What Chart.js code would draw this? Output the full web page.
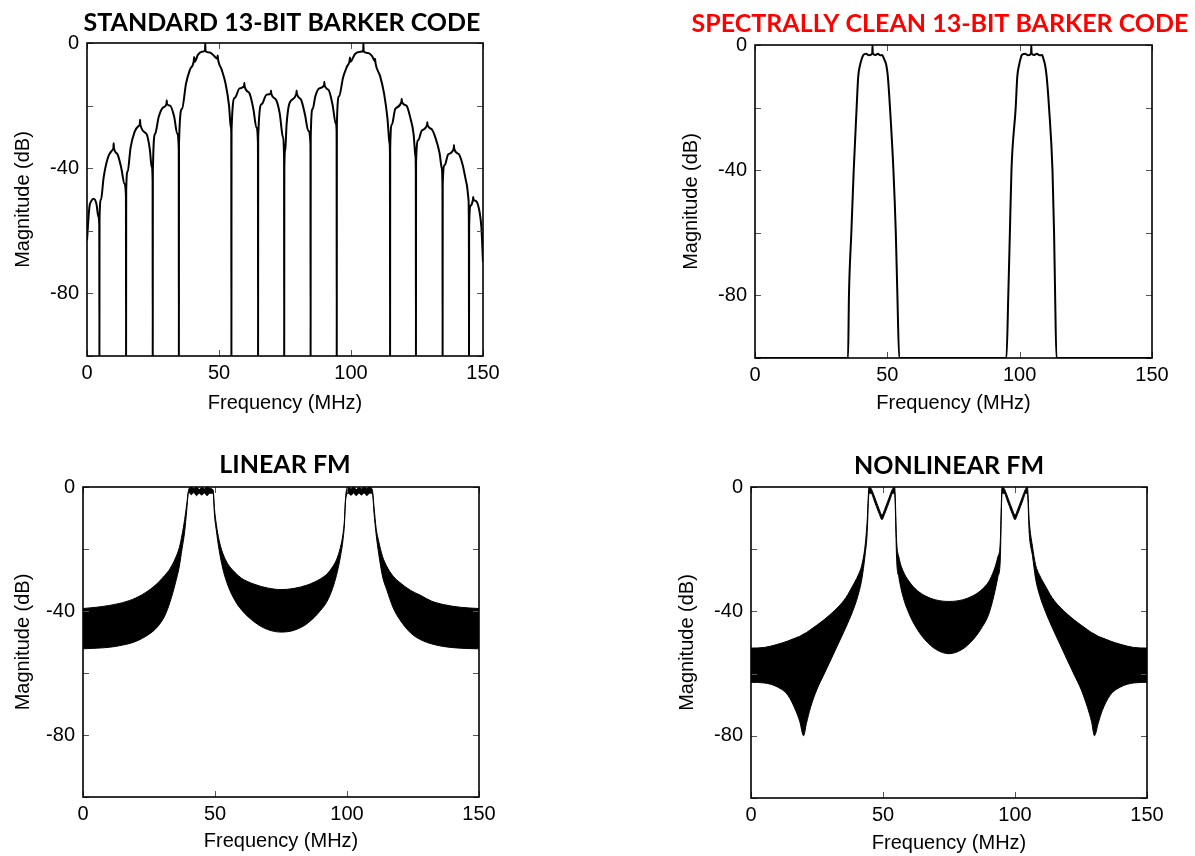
<!DOCTYPE html>
<html>
<head>
<meta charset="utf-8">
<script src="https://cdn.jsdelivr.net/npm/chart.js@4.4.1/dist/chart.umd.min.js"></script>
<style>
  html, body { margin: 0; padding: 0; background: #fff; width: 1195px; height: 856px; overflow: hidden; }
  canvas { position: absolute; }
</style>
</head>
<body>
<canvas id="barker" width="563" height="420" style="left:0px;top:0px"></canvas>
<canvas id="clean" width="544" height="420" style="left:668px;top:0px"></canvas>
<canvas id="lfm" width="571" height="414" style="left:0px;top:444px"></canvas>
<canvas id="nlfm" width="570" height="416" style="left:664px;top:444px"></canvas>
<script>
// axis ticks
const freqTicks = [0, 50, 100, 150];
const magTicks = [0, -20, -40, -60, -80, -100];
const magLabels = [0, -40, -80];

// standard 13-bit Barker code spectrum (MHz, dB)
const barkerFreq = [
  0, 0.9, 1.6, 2.5, 3.6, 4.3, 4.65, 4.7,
  4.75, 5.3, 6.3, 7.8, 9.3, 10.0, 10.1, 10.2, 11.5, 13, 14.2, 14.75, 14.8,
  14.85, 15.4, 16.5, 18, 19.6, 20.0, 20.1, 20.2, 22.5, 23.8, 24.5, 24.85, 24.9,
  24.95, 25.8, 27.2, 29, 30.1, 30.2, 30.3, 31.5, 33, 34.2, 34.75, 34.8,
  34.85, 36, 37.5, 39, 40.4, 40.6, 40.8, 42, 43.5, 44.7, 44.8, 44.9, 46.5, 48, 49.3, 49.5, 49.7, 51, 52.5, 53.8, 54.5, 54.65, 54.7,
  54.75, 56, 57.8, 59.5, 59.6, 59.7, 61.5, 63, 64.2, 64.75, 64.8,
  64.85, 66.2, 68, 69.6, 69.7, 69.8, 71.5, 73, 74.2, 74.65, 74.7,
  74.75, 75.1, 75.6, 76.8, 79.3, 79.4, 79.5, 81, 82.6, 83.8, 84.65, 84.7,
  84.75, 85.5, 86.5, 88, 89.8, 89.9, 90.0, 91.5, 93, 94.3, 94.55, 94.6,
  94.65, 95.5, 97, 98.5, 99.5, 99.6, 99.8, 101.5, 103.5, 104.6, 104.7, 104.8, 106.5, 108, 109.0, 109.1, 109.3, 111, 112.5, 113.8, 114.6, 114.75, 114.8,
  114.85, 115.5, 116.8, 119.1, 119.2, 119.3, 121, 122.5, 123.7, 124.4, 124.55, 124.6,
  124.65, 125.5, 126.8, 128.8, 128.9, 129.0, 130.5, 132, 133.5, 134.4, 134.65, 134.7,
  134.75, 135.5, 136.8, 138.9, 139.0, 139.1, 140.8, 142.3, 143.8, 144.5, 144.65, 144.7,
  144.75, 145.3, 146.2, 146.3, 146.4, 147.4, 148.7, 149.4, 150
];
const barkerMag = [
  -63, -52.5, -50.5, -49.8, -51.5, -55.5, -58, -100,
  -56, -50, -43, -37, -34.5, -33.5, -32, -33.5, -35.5, -40, -45, -49, -100,
  -47, -41, -33.5, -28.5, -26.5, -26, -24.5, -26, -29, -34, -39.5, -44, -100,
  -41, -29, -23.5, -20.5, -19.5, -18.3, -19.5, -20, -23.5, -29, -34, -100,
  -32, -21, -13, -8.5, -6, -4.5, -6, -3.8, -2.8, -2.5, 0, -2.6, -3, -4, -5, -4, -5.5, -8.5, -13, -20, -27, -29, -100,
  -28, -17.5, -14.5, -13.8, -12.7, -13.8, -16, -21, -27, -32, -100,
  -30, -19.5, -16.5, -16.2, -15.2, -16.2, -18, -22.5, -30, -37, -100,
  -40, -34, -26, -19, -16.2, -15.2, -16.2, -18, -23, -28, -32.4, -100,
  -30, -21, -17, -14.5, -13.5, -12.4, -13.5, -15, -19.7, -26, -28.2, -100,
  -26, -17, -11, -7.5, -5.5, -4.6, -6, -3.5, -2.8, -2.6, 0, -2.7, -3.2, -4.2, -5.8, -5, -6.5, -10.5, -16, -24, -32, -35.6, -100,
  -33.5, -26, -21, -18.8, -17.8, -18.8, -20, -24, -29, -36, -41, -100,
  -38, -31, -28, -26.2, -25.3, -26.2, -27.5, -30.3, -35, -40, -47, -100,
  -45, -39, -35.6, -33.8, -32.6, -33.8, -35.5, -39, -45, -50, -59, -100,
  -59, -52, -50, -49.2, -50, -50.5, -54, -59, -70
];

// spectrally clean 13-bit Barker code
const cleanFreq = [
  0, 35.15, 35.5, 36.4, 37.3, 38.4, 39.0, 39.7, 40.3, 40.9,
  42, 43, 44.3, 44.4, 44.5, 45.5, 46.5, 47.3, 48.0, 48.8,
  49.6, 50.2, 51.0, 52.3, 53.2, 53.8, 54.5,
  95.0, 95.7, 96.3, 96.9, 98.5, 99.1, 99.8, 100.3, 100.8,
  102, 103.2, 104.3, 104.4, 104.5, 105.5, 106.5, 107.5, 108.5,
  109.0, 109.6, 110.2, 111.1, 112.4, 113.0, 113.4, 113.9, 150
];
const cleanMag = [
  -100, -100, -80, -60, -40, -20, -10.1, -6.4, -4.5, -3.2,
  -2.8, -3.3, -2.7, 0, -2.7, -3.2, -2.8, -3.3, -3.2, -4.5,
  -6.4, -10.1, -20, -40, -60, -80, -100,
  -100, -80, -60, -40, -20, -10.1, -6.4, -4.5, -3.2,
  -2.8, -3.3, -2.7, 0, -2.7, -3.2, -2.8, -3.3, -3.2,
  -4.5, -6.4, -10.1, -20, -40, -60, -80, -100, -100
];

// linear FM: upper and lower edge of the oscillating band
const lfmFreq = [
  0, 5, 10, 15, 20, 25, 28, 31, 33, 35,
  36.5, 37.5, 38.5, 39.3, 40, 41, 42, 43, 44, 45,
  46, 47, 48, 49.3, 49.8, 50.5, 51.5, 53, 55, 57.5,
  60, 65, 70, 75, 80, 85, 90, 92.5, 94.5, 96,
  97.5, 98.5, 99, 99.5, 100.5, 101.5, 102.5, 103.5, 104.5, 105.5,
  106.5, 107.5, 108.5, 109.6, 110.3, 111, 112, 113.5, 115, 117.5,
  120, 124, 128, 132, 137, 143, 150
];
const lfmUpper = [
  -39.2, -38.8, -38.2, -37.3, -35.8, -33.3, -31.2, -28.5, -26.3, -23,
  -19.5, -15.5, -10.5, -5.5, -1, 0, -0.5, 0, -0.8, -0.2,
  -0.6, 0, -0.4, -1, -7, -12, -17, -21.5, -25, -27.5,
  -29.4, -31.4, -32.6, -33.1, -32.7, -31.6, -29.6, -28, -25.8, -23.5,
  -19.5, -15, -11, -3, 0, -0.6, 0, -0.8, -0.2, -0.6,
  0, -0.5, 0, -1, -7, -13, -17.5, -22.5, -25.5, -28.8,
  -30.8, -33.3, -35, -36.8, -38, -38.8, -39.2
];
const lfmLower = [
  -52.2, -52, -51.7, -51, -49.8, -47.5, -45.3, -41.5, -37, -31,
  -25.5, -20, -14.5, -7.5, -1.5, -2.5, -1.8, -2.8, -2, -2.6,
  -1.9, -2.8, -2, -2, -9, -14, -20, -26.5, -32, -36.5,
  -39.6, -43.6, -46, -46.8, -46.2, -44, -39.8, -36.8, -32.8, -28.5,
  -22.5, -17, -12.5, -4, -2, -2.7, -1.9, -2.8, -2, -2.6,
  -1.9, -2.8, -2, -2, -9, -15, -21.5, -29, -33, -39,
  -42.8, -47, -49.3, -50.6, -51.5, -52, -52.2
];

// nonlinear FM
const nlfmFreq = [
  0, 5, 10, 14, 17, 18.5, 19.9, 21, 22.5, 25,
  27.5, 30, 33, 36, 38.5, 40.5, 42, 43.2, 44, 44.7,
  45.5, 46.5, 47.5, 48.5, 49.6, 50.7, 51.7, 52.7, 53.7, 54.4,
  55.2, 56, 57.5, 60, 63, 66, 70, 75, 80, 84,
  87, 90, 92, 93.5, 94.4, 95.1, 95.9, 96.9, 97.9, 98.9,
  100, 101.1, 102.1, 103.1, 104.1, 104.7, 105.4, 106.6, 107.8, 109.4,
  111.5, 114, 117, 120, 122.5, 125, 127.5, 129, 130.1, 131.5,
  133, 136, 140, 145, 150
];
const nlfmUpper = [
  -51.8, -51.6, -50.6, -49.5, -48.5, -48, -47.3, -46.8, -45.9, -44.4,
  -42.8, -41, -38.6, -35.5, -31.8, -28.5, -25, -19, -11, 0,
  -0.5, -2.5, -4.8, -7, -9, -7, -4.8, -2.5, -0.5, 0,
  -18, -22.5, -26.8, -30.5, -33.3, -35, -36.3, -36.8, -36.3, -35,
  -33.3, -30.5, -26.8, -22.5, -18, 0, -0.5, -2.5, -4.8, -7,
  -9, -7, -4.8, -2.5, -0.5, 0, -11, -19, -25, -28.5,
  -31.8, -35.5, -38.6, -41, -42.8, -44.4, -45.9, -46.8, -47.3, -48,
  -48.5, -49.5, -50.6, -51.6, -51.8
];
const nlfmLower = [
  -62.8, -63, -64.3, -67, -72, -75.5, -80, -76, -71, -65,
  -60.5, -56, -50.5, -45, -40, -35, -29.5, -22, -15, -2,
  -2, -4, -6.3, -8.5, -10.5, -8.5, -6.3, -4, -2, -2,
  -24, -29, -35, -41, -45.8, -49.2, -52.2, -53.6, -52.2, -49.2,
  -45.8, -41, -35, -29, -24, -2, -2, -4, -6.3, -8.5,
  -10.5, -8.5, -6.3, -4, -2, -2, -15, -22, -29.5, -35,
  -40, -45, -50.5, -56, -60.5, -65, -71, -75.5, -80, -76,
  -72, -67, -64.3, -63, -62.8
];

Chart.defaults.font.family = "'Liberation Sans', Arial, sans-serif";
Chart.defaults.font.size = 20;
Chart.defaults.color = '#000';

function pts(xs, ys) {
  return xs.map((x, i) => ({ x: x, y: ys[i] }));
}

// box, inward tick marks and the bold title
const framePlugin = {
  id: 'frame',
  afterDraw(chart, args, opts) {
    const ctx = chart.ctx;
    const a = chart.chartArea;
    const xs = chart.scales.x, ys = chart.scales.y;
    ctx.save();
    ctx.strokeStyle = '#555';
    ctx.lineWidth = 1;
    ctx.beginPath();
    magTicks.forEach(v => {
      const py = Math.round(ys.getPixelForValue(v)) + 0.5;
      ctx.moveTo(a.left, py); ctx.lineTo(a.left + 6, py);
      ctx.moveTo(a.right, py); ctx.lineTo(a.right - 6, py);
    });
    freqTicks.forEach(v => {
      const px = Math.round(xs.getPixelForValue(v)) + 0.5;
      ctx.moveTo(px, a.bottom); ctx.lineTo(px, a.bottom - 6);
      ctx.moveTo(px, a.top); ctx.lineTo(px, a.top + 6);
    });
    ctx.stroke();
    ctx.strokeStyle = '#000';
    ctx.lineWidth = 1.6;
    ctx.strokeRect(a.left, a.top, a.right - a.left, a.bottom - a.top);
    ctx.font = "bold 25px Lato, 'Open Sans', sans-serif";
    ctx.fillStyle = opts.color;
    ctx.textAlign = 'center';
    ctx.textBaseline = 'middle';
    ctx.fillText(opts.text, opts.x, opts.y);
    ctx.restore();
  }
};

function makeChart(id, geo, datasets, title) {
  const padTop = geo.T - geo.cy;
  const padRight = geo.cx + geo.cw - geo.R;
  const yWidth = geo.L - geo.cx;
  const xHeight = geo.cy + geo.ch - geo.B;
  new Chart(document.getElementById(id), {
    type: 'line',
    data: { datasets: datasets },
    options: {
      responsive: false,
      animation: false,
      events: [],
      layout: { padding: { left: 0, top: padTop, right: padRight, bottom: 0 } },
      elements: { point: { radius: 0 } },
      plugins: {
        legend: { display: false },
        tooltip: { enabled: false },
        frame: { text: title.text, color: title.color, x: title.x - geo.cx, y: title.y - geo.cy }
      },
      scales: {
        x: {
          type: 'linear',
          min: 0,
          max: 150,
          afterFit: s => { s.height = xHeight; },
          afterBuildTicks: s => { s.ticks = freqTicks.map(v => ({ value: v })); },
          grid: { display: false, drawTicks: false, tickLength: 0 },
          border: { display: false },
          ticks: { padding: 5, maxRotation: 0 },
          title: { display: true, text: 'Frequency (MHz)', padding: { top: 0, bottom: 5 } }
        },
        y: {
          type: 'linear',
          min: -100,
          max: 0,
          afterFit: s => { s.width = yWidth; },
          afterBuildTicks: s => { s.ticks = magTicks.map(v => ({ value: v })); },
          grid: { display: false, drawTicks: false, tickLength: 0 },
          border: { display: false },
          ticks: {
            padding: 8,
            callback: v => magLabels.includes(v) ? String(v) : ''
          },
          title: { display: true, text: 'Magnitude (dB)', padding: { top: 11, bottom: 0 } }
        }
      }
    },
    plugins: [framePlugin]
  });
}

function curve(xs, ys, width) {
  return {
    data: pts(xs, ys),
    borderColor: '#000',
    borderWidth: width,
    cubicInterpolationMode: 'monotone',
    fill: false
  };
}

function band(xs, upper, lower) {
  return [{
    data: pts(xs, upper),
    borderColor: '#000',
    borderWidth: 1,
    backgroundColor: '#000',
    cubicInterpolationMode: 'monotone',
    fill: '+1'
  }, {
    data: pts(xs, lower),
    borderColor: '#000',
    borderWidth: 1,
    cubicInterpolationMode: 'monotone',
    fill: false
  }];
}

makeChart('barker',
  { cx: 0, cy: 0, cw: 563, ch: 420, L: 87, T: 43, R: 483, B: 356 },
  [curve(barkerFreq, barkerMag, 2)],
  { text: 'STANDARD 13-BIT BARKER CODE', color: '#000', x: 282, y: 23 });

makeChart('clean',
  { cx: 668, cy: 0, cw: 544, ch: 420, L: 755, T: 45, R: 1152, B: 358 },
  [curve(cleanFreq, cleanMag, 2)],
  { text: 'SPECTRALLY CLEAN 13-BIT BARKER CODE', color: '#ff0000', x: 940, y: 24 });

makeChart('lfm',
  { cx: 0, cy: 444, cw: 571, ch: 414, L: 83, T: 487, R: 479, B: 797 },
  band(lfmFreq, lfmUpper, lfmLower),
  { text: 'LINEAR FM', color: '#000', x: 285, y: 465 });

makeChart('nlfm',
  { cx: 664, cy: 444, cw: 570, ch: 416, L: 751, T: 487, R: 1147, B: 798 },
  band(nlfmFreq, nlfmUpper, nlfmLower),
  { text: 'NONLINEAR FM', color: '#000', x: 949, y: 466 });
</script>
</body>
</html>
